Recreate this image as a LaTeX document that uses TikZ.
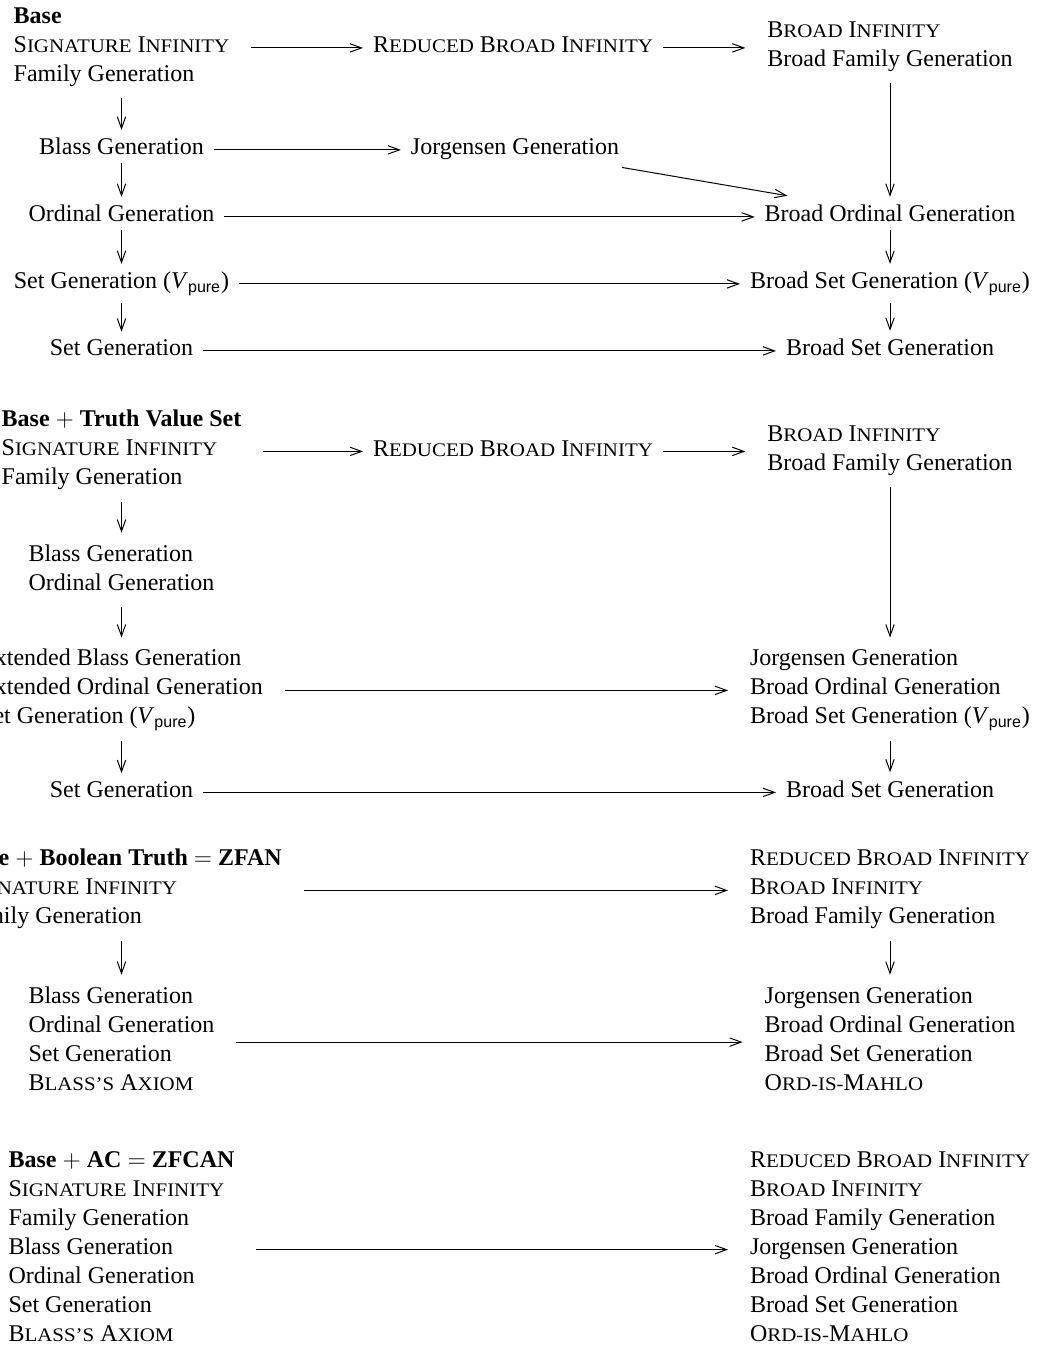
\documentclass[tikz,border=0pt]{standalone}
\usepackage{fontspec}
\setmainfont{Liberation Serif}
\setsansfont{Liberation Sans}
\newfontfamily\scfont[FakeStretch=1.09]{Liberation Serif}
\usetikzlibrary{arrows.meta}
\newcommand\mysc[2]{#1{\scfont\fontsize{9.6}{14.5}\selectfont #2}}
\newcommand\Vpure{\textit{V}$_{\mbox{\sffamily\fontsize{8}{9}\selectfont pure}}$}
\newcommand\SigInf{\mysc{S}{IGNATURE} \mysc{I}{NFINITY}}
\newcommand\RedBI{\mysc{R}{EDUCED} \mysc{B}{ROAD} \mysc{I}{NFINITY}}
\newcommand\BroadInf{\mysc{B}{ROAD} \mysc{I}{NFINITY}}
\newcommand\BlassAx{\mysc{B}{LASS’S} \mysc{A}{XIOM}}
\newcommand\OrdMahlo{\mysc{O}{RD-IS-}\mysc{M}{AHLO}}
\newcommand\blk[1]{\begin{tabular}{l}#1\end{tabular}}
\begin{document}
\begin{tikzpicture}[x=0.5pt,y=-0.5pt,
  lbl/.style={anchor=base,inner sep=0pt,outer sep=0pt,font=\fontsize{12}{14.5}\selectfont},
  harr/.style={-{Straight Barb[length=5.8pt,width=4.2pt]},line width=0.5pt,shorten <=5pt,shorten >=5pt},
  varr/.style={-{Straight Barb[length=5.8pt,width=4.2pt]},line width=0.5pt,shorten <=4pt,shorten >=4pt}]
\path[fill=white,use as bounding box] (0,0) rectangle (1040,1348);
\clip (0,0) rectangle (1040,1348);
% ---------- Section 1: Base ----------
\node[lbl] (s1a) at (121.5,52.5) {\blk{\textbf{Base}\\ \SigInf\\ Family Generation}};
\node[lbl] (s1b) at (513,52.5) {\RedBI};
\node[lbl] (s1c) at (890,52.5) {\blk{\BroadInf\\ Broad Family Generation}};
\node[lbl] (s1d) at (121.5,154.5) {Blass Generation};
\node[lbl] (s1e) at (515,154.5) {Jorgensen Generation};
\node[lbl] (s1f) at (121.5,221.5) {Ordinal Generation};
\node[lbl] (s1g) at (890,221.5) {Broad Ordinal Generation};
\node[lbl] (s1h) at (121.5,288.5) {Set Generation (\Vpure)};
\node[lbl] (s1i) at (890,288.5) {Broad Set Generation (\Vpure)};
\node[lbl] (s1j) at (121.5,355.5) {Set Generation};
\node[lbl] (s1k) at (890,355.5) {Broad Set Generation};
\draw[harr] (s1a.mid east) -- (s1b.mid west);
\draw[harr] (s1b.mid east) -- (s1c.mid west);
\draw[varr] (s1a) -- (s1d);
\draw[harr] (s1d.mid east) -- (s1e.mid west);
\draw[harr,shorten <=23pt,shorten >=27pt] (s1e) -- (s1g);
\draw[varr] (s1c) -- (s1g);
\draw[varr] (s1d) -- (s1f);
\draw[harr] (s1f.mid east) -- (s1g.mid west);
\draw[varr] (s1f) -- (s1h);
\draw[harr] (s1h.mid east) -- (s1i.mid west);
\draw[varr] (s1g) -- (s1i);
\draw[varr] (s1h) -- (s1j);
\draw[varr] (s1i) -- (s1k);
\draw[harr] (s1j.mid east) -- (s1k.mid west);
% ---------- Section 2: Base + Truth Value Set ----------
\node[lbl] (s2a) at (121.5,456) {\blk{\textbf{Base} $+$ \textbf{Truth Value Set}\\ \SigInf\\ Family Generation}};
\node[lbl] (s2b) at (513,456) {\RedBI};
\node[lbl] (s2c) at (890,456) {\blk{\BroadInf\\ Broad Family Generation}};
\node[lbl] (s2d) at (121.5,575.7) {\blk{Blass Generation\\ Ordinal Generation}};
\node[lbl] (s2e) at (121.5,695) {\blk{Extended Blass Generation\\ Extended Ordinal Generation\\ Set Generation (\Vpure)}};
\node[lbl] (s2f) at (890,695) {\blk{Jorgensen Generation\\ Broad Ordinal Generation\\ Broad Set Generation (\Vpure)}};
\node[lbl] (s2g) at (121.5,797) {Set Generation};
\node[lbl] (s2h) at (890,797) {Broad Set Generation};
\draw[harr] (s2a.mid east) -- (s2b.mid west);
\draw[harr] (s2b.mid east) -- (s2c.mid west);
\draw[varr] (s2a) -- (s2d);
\draw[varr] (s2d) -- (s2e);
\draw[varr] (s2c) -- (s2f);
\draw[harr] (s2e.mid east) -- (s2f.mid west);
\draw[varr] (s2e) -- (s2g);
\draw[varr] (s2f) -- (s2h);
\draw[harr] (s2g.mid east) -- (s2h.mid west);
% ---------- Section 3: Base + Boolean Truth = ZFAN ----------
\node[lbl] (s3a) at (121.5,895) {\blk{\textbf{Base} $+$ \textbf{Boolean Truth} $=$ \textbf{ZFAN}\\ \SigInf\\ Family Generation}};
\node[lbl] (s3b) at (890,895) {\blk{\RedBI\\ \BroadInf\\ Broad Family Generation}};
\node[lbl] (s3c) at (121.5,1046.7) {\blk{Blass Generation\\ Ordinal Generation\\ Set Generation\\ \BlassAx}};
\node[lbl] (s3d) at (890,1046.7) {\blk{Jorgensen Generation\\ Broad Ordinal Generation\\ Broad Set Generation\\ \OrdMahlo}};
\draw[harr] (s3a.mid east) -- (s3b.mid west);
\draw[varr] (s3a) -- (s3c);
\draw[varr] (s3b) -- (s3d);
\draw[harr] (s3c.mid east) -- (s3d.mid west);
% ---------- Section 4: Base + AC = ZFCAN ----------
\node[lbl] (s4a) at (121.5,1254.2) {\blk{\textbf{Base} $+$ \textbf{AC} $=$ \textbf{ZFCAN}\\ \SigInf\\ Family Generation\\ Blass Generation\\ Ordinal Generation\\ Set Generation\\ \BlassAx}};
\node[lbl] (s4b) at (890,1254.2) {\blk{\RedBI\\ \BroadInf\\ Broad Family Generation\\ Jorgensen Generation\\ Broad Ordinal Generation\\ Broad Set Generation\\ \OrdMahlo}};
\draw[harr] (s4a.mid east) -- (s4b.mid west);
\end{tikzpicture}
\end{document}
